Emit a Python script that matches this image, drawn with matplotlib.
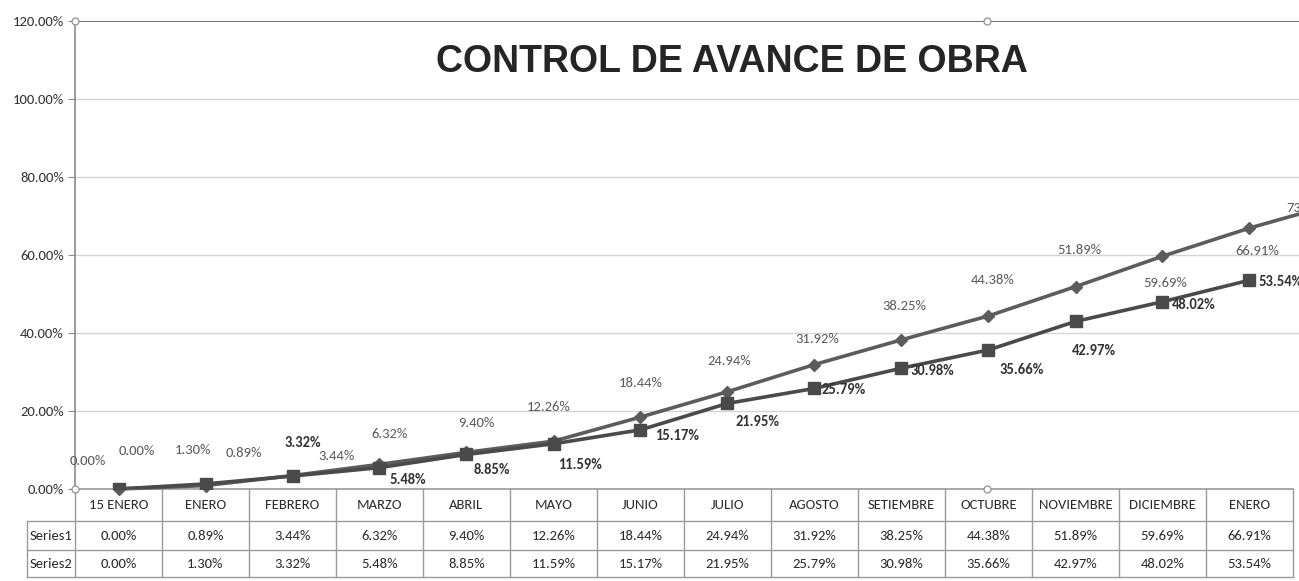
import matplotlib
matplotlib.use("Agg")
import matplotlib.pyplot as plt
from matplotlib.transforms import blended_transform_factory
from matplotlib.lines import Line2D

# ---------------- data ----------------
categories = ["15 ENERO", "ENERO", "FEBRERO", "MARZO", "ABRIL", "MAYO", "JUNIO",
              "JULIO", "AGOSTO", "SETIEMBRE", "OCTUBRE", "NOVIEMBRE", "DICIEMBRE", "ENERO"]
series1 = [0.00, 0.89, 3.44, 6.32, 9.40, 12.26, 18.44, 24.94, 31.92, 38.25,
           44.38, 51.89, 59.69, 66.91]
series1_next = 73.20          # 15th point, cut off at right edge in the original
series2 = [0.00, 1.30, 3.32, 5.48, 8.85, 11.59, 15.17, 21.95, 25.79, 30.98,
           35.66, 42.97, 48.02, 53.54]
series_names = ["Series1", "Series2"]
yticks = [0, 20, 40, 60, 80, 100, 120]
title = "CONTROL DE AVANCE DE OBRA"

# label offsets (pixels) for data labels
off1 = [(18, 38), (38, 33), (44, 20), (10, 30), (10, 29), (-5, 34), (0, 34),
        (2, 31), (3, 26), (3, 34), (4, 36), (4, 37), (3, -27), (8, -23)]
off2 = [(-31, 28), (-13, 34), (10, 33), (28, -12), (25, -16), (27, -21), (37, -6),
        (30, -19), (29, -2), (31, -3), (33, -20), (18, -30), (31, -3), (31, -2)]

W, H = 1299, 581
fig = plt.figure(figsize=(W / 100, H / 100), dpi=100)
fig.patch.set_facecolor("white")

cal = ["Carlito", "DejaVu Sans"]
fs = 10.5

ax_left, ax_top, ax_bot = 75, 21, 489
colw = 87
ax = fig.add_axes([ax_left / W, (H - ax_bot) / H, 15 * colw / W, (ax_bot - ax_top) / H])
ax.set_xlim(-0.5, 14.5)
ax.set_ylim(0, 120)
ax.set_facecolor("white")

for s in ["top", "right", "bottom"]:
    ax.spines[s].set_visible(False)
ax.spines["left"].set_color("#8a8a8a")
ax.spines["left"].set_linewidth(1.2)
ax.set_xticks([])
ax.set_yticks(yticks)
ax.set_yticklabels([f"{v:.2f}%" for v in yticks], fontsize=fs, color="#333333",
                   family=cal)
ax.tick_params(axis="y", length=5, color="#8a8a8a", pad=3)
for v in yticks[1:]:
    ax.axhline(v, color="#707070" if v == 120 else "#d4d4d4",
               lw=1.4 if v == 120 else 1.0, zorder=1)

xs = list(range(len(categories)))
c1 = "#5c5c5c"
c2 = "#4a4a4a"
ax.plot(xs + [14], series1 + [series1_next], color=c1, lw=2.6,
        marker="D", ms=6, mfc=c1, mec=c1, zorder=3, clip_on=False)
ax.plot(xs, series2, color=c2, lw=2.6, marker="s", ms=9,
        mfc=c2, mec=c2, zorder=4)

for i, v in enumerate(series1):
    ax.annotate(f"{v:.2f}%", (i, v), xytext=off1[i], textcoords="offset pixels",
                ha="center", va="center", fontsize=fs, color="#5a5a5a",
                family=cal, zorder=5)
ax.annotate(f"{series1_next:.2f}%", (14, series1_next), xytext=(-50, -4),
            textcoords="offset pixels", ha="left", va="center", fontsize=fs,
            color="#5a5a5a", family=cal, annotation_clip=False)
for i, v in enumerate(series2):
    bold = i >= 2
    ax.annotate(f"{v:.2f}%", (i, v), xytext=off2[i], textcoords="offset pixels",
                ha="center", va="center", fontsize=fs,
                color="#333333" if bold else "#5a5a5a",
                fontweight="bold" if bold else "normal",
                family=cal, zorder=5)

# title
fig.text(732 / W, 1 - 62 / H, title, ha="center", va="center", fontsize=27,
         fontweight="bold", color="#252525", family=["Liberation Sans", "DejaVu Sans"])

# ---------------- data table ----------------
tr = blended_transform_factory(ax.transData, ax.transAxes)
ph = ax_bot - ax_top
def yf(py):
    return -(py - ax_bot) / ph

rows_px = [489, 521, 550, 577]
x_left_lbl = -0.5 - 48 / colw
x_right = len(categories) - 0.5
grid_c = "#9a9a9a"
ax.add_line(Line2D([-0.5, x_right], [yf(rows_px[0])] * 2, transform=tr, color=grid_c,
                   lw=1.2, clip_on=False))
for py in rows_px[1:]:
    ax.add_line(Line2D([x_left_lbl, x_right], [yf(py)] * 2, transform=tr, color=grid_c,
                       lw=1.0, clip_on=False))
for k in range(len(categories) + 1):
    xv = k - 0.5
    ax.add_line(Line2D([xv, xv], [yf(rows_px[0]), yf(rows_px[3])], transform=tr,
                       color=grid_c, lw=1.0, clip_on=False))
ax.add_line(Line2D([x_left_lbl, x_left_lbl], [yf(rows_px[1]), yf(rows_px[3])],
                   transform=tr, color=grid_c, lw=1.0, clip_on=False))

tcol = "#2a2a2a"
for i, c in enumerate(categories):
    ax.text(i, yf((rows_px[0] + rows_px[1]) / 2), c, transform=tr, ha="center",
            va="center", fontsize=fs, color=tcol, family=cal, clip_on=False)
    ax.text(i, yf((rows_px[1] + rows_px[2]) / 2), f"{series1[i]:.2f}%", transform=tr,
            ha="center", va="center", fontsize=fs, color=tcol, family=cal, clip_on=False)
    ax.text(i, yf((rows_px[2] + rows_px[3]) / 2), f"{series2[i]:.2f}%", transform=tr,
            ha="center", va="center", fontsize=fs, color=tcol, family=cal, clip_on=False)
for r, name in enumerate(series_names):
    ax.text((x_left_lbl - 0.5) / 2, yf((rows_px[1 + r] + rows_px[2 + r]) / 2), name,
            transform=tr, ha="center", va="center", fontsize=fs, color=tcol,
            family=cal, clip_on=False)

# Excel selection handles
for (px, py) in [(75, 21), (987, 21), (75, 489), (987, 489)]:
    fig.add_artist(Line2D([px / W], [1 - py / H], marker="o", ms=5, mfc="white",
                          mec="#909090", mew=0.9, transform=fig.transFigure))

fig.savefig("out.png", dpi=100, facecolor="white")
